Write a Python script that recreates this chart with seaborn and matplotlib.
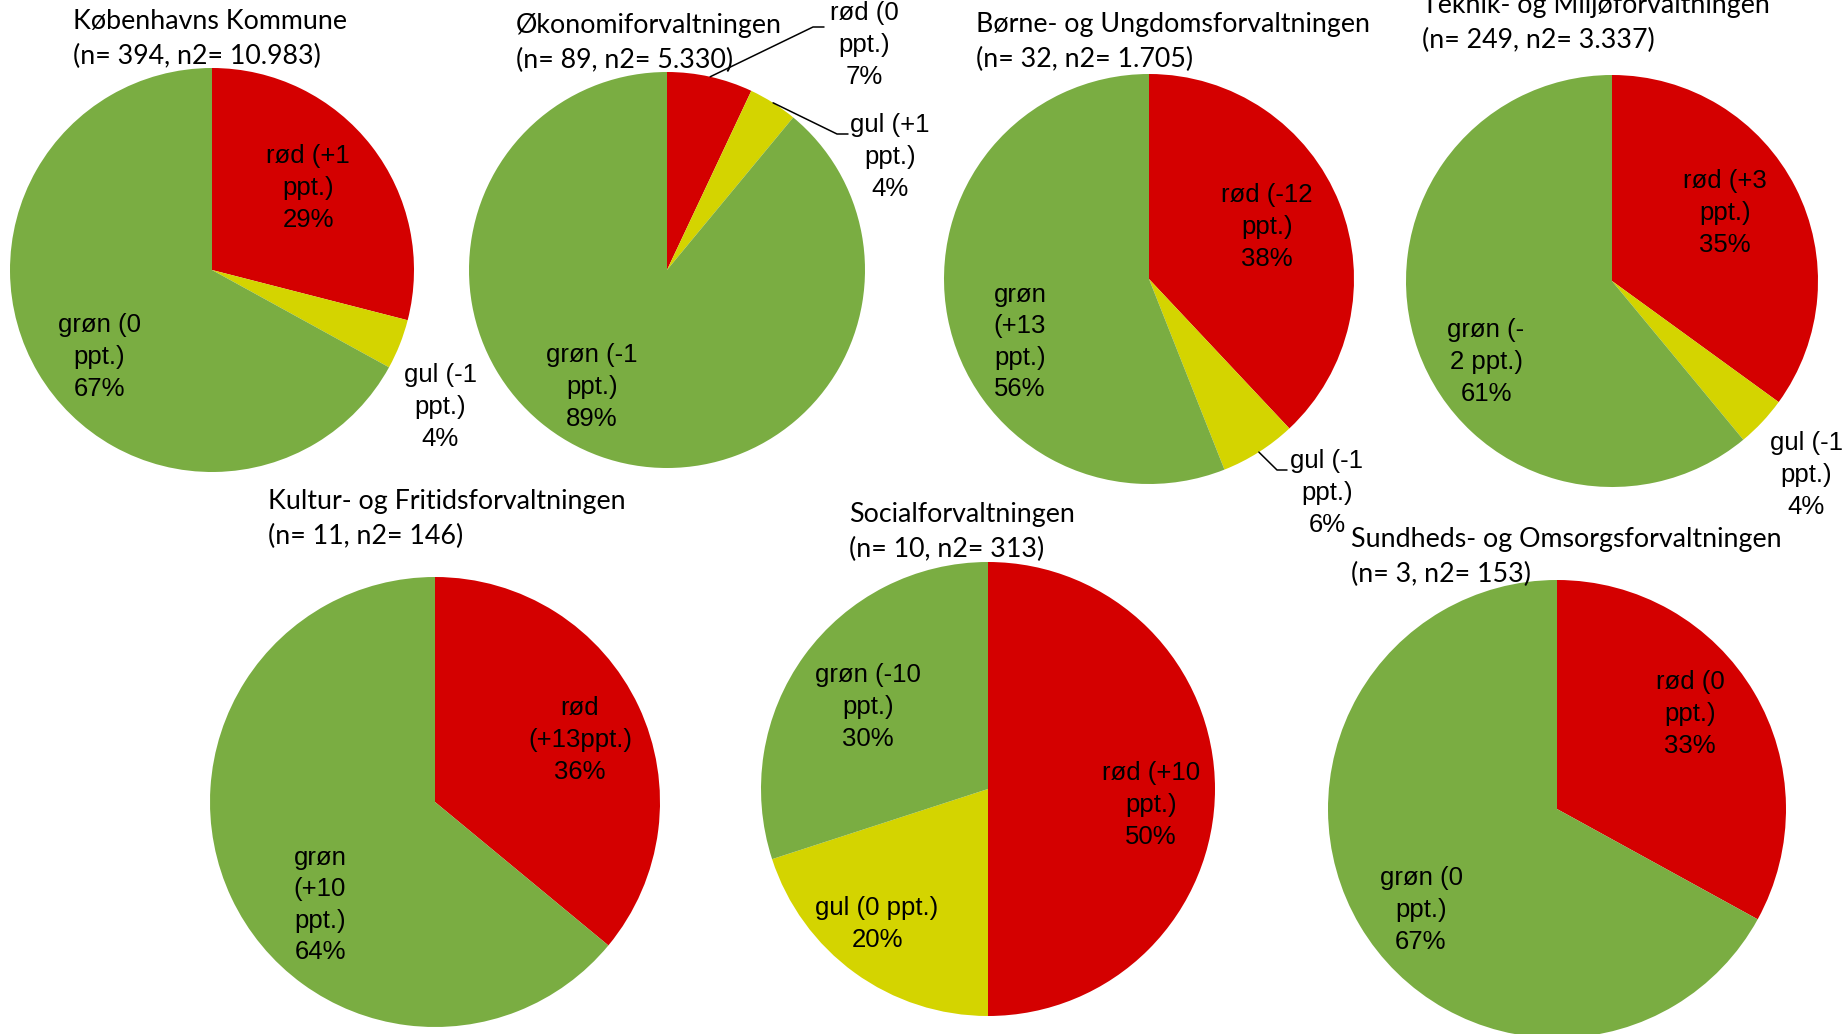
import numpy as np
import matplotlib
matplotlib.use("Agg")
import matplotlib.pyplot as plt
import seaborn as sns

# data
titles = ["Københavns Kommune", "Økonomiforvaltningen", "Børne- og Ungdomsforvaltningen",
          "Teknik- og Miljøforvaltningen", "Kultur- og Fritidsforvaltningen",
          "Socialforvaltningen", "Sundheds- og Omsorgsforvaltningen"]
n_vals = [394, 89, 32, 249, 11, 10, 3]
n2_vals = ["10.983", "5.330", "1.705", "3.337", "146", "313", "153"]

rod = [29, 7, 38, 35, 36, 50, 33]
gul = [4, 4, 6, 4, 0, 20, 0]
gron = [67, 89, 56, 61, 64, 30, 67]

rod_txt = ["rød (+1\nppt.)", "rød (0\nppt.)", "rød (-12\nppt.)", "rød (+3\nppt.)",
           "rød\n(+13ppt.)", "rød (+10\nppt.)", "rød (0\nppt.)"]
gul_txt = ["gul (-1\nppt.)", "gul (+1\nppt.)", "gul (-1\nppt.)", "gul (-1\nppt.)",
           None, "gul (0 ppt.)", None]
gron_txt = ["grøn (0\nppt.)", "grøn (-1\nppt.)", "grøn\n(+13\nppt.)", "grøn (-\n2 ppt.)",
            "grøn\n(+10\nppt.)", "grøn (-10\nppt.)", "grøn (0\nppt.)"]

# layout (pixels, y from top)
W, H = 1844, 1034
centers = [(212, 270), (667, 270), (1149, 279), (1612, 281), (435, 802), (988, 789), (1557, 809)]
radii = [202, 198, 205, 206, 225, 227, 229]
title_pos = [(73, 39), (516, 43), (976, 42), (1422, 23), (268, 519), (849, 532), (1351, 557)]
# label centres: rød, gul, grøn
label_pos = [
    [(308, 188), (440, 407), (99, 357)],
    [(864, 45), (890, 157), (592, 387)],
    [(1267, 227), (1327, 493), (1020, 342)],
    [(1725, 213), (1806, 475), (1486, 362)],
    [(580, 740), None, (320, 905)],
    [(1151, 805), (877, 924), (868, 707)],
    [(1690, 714), None, (1421, 910)],
]
# leader lines: (pie, slice, elbow x, elbow y, end x)
leaders = [(1, 0, 813, 27, 824), (1, 1, 837, 134, 848), (2, 1, 1277, 470, 1287)]

sns.set_theme(style="white")
colors = sns.color_palette(["#D40000", "#D4D400", "#7AAD42"])
label_font = ["Liberation Sans", "DejaVu Sans"]
title_font = ["Lato", "DejaVu Sans"]

fig = plt.figure(figsize=(W / 100, H / 100), dpi=100)
ax = fig.add_axes([0, 0, 1, 1])

for i in range(len(titles)):
    vals = [rod[i], gul[i], gron[i]]
    keep = [k for k in range(3) if vals[k] > 0]
    cx, cy = centers[i]
    ax.pie([vals[k] for k in keep], colors=[colors[k] for k in keep],
           startangle=90, counterclock=False, center=(cx, H - cy), radius=radii[i],
           wedgeprops=dict(linewidth=0), frame=True)

    ax.text(title_pos[i][0], H - title_pos[i][1],
            f"{titles[i]}\n(n= {n_vals[i]}, n2= {n2_vals[i]})",
            ha="left", va="center", fontsize=19.3, family=title_font,
            linespacing=1.45, color="black")

    texts = [rod_txt[i], gul_txt[i], gron_txt[i]]
    for k in keep:
        lx, ly = label_pos[i][k]
        ax.text(lx, H - ly, f"{texts[k]}\n{vals[k]}%", ha="center", va="center",
                fontsize=18.5, family=label_font, linespacing=1.4, color="black")

# leader lines from slice middle on the rim
for i, k, ex, ey, endx in leaders:
    vals = [rod[i], gul[i], gron[i]]
    before = sum(vals[:k])
    mid = 90 - 3.6 * (before + vals[k] / 2)
    cx, cy = centers[i]
    sx = cx + radii[i] * np.cos(np.radians(mid))
    sy = (H - cy) + radii[i] * np.sin(np.radians(mid))
    ax.plot([sx, ex, endx], [sy, H - ey, H - ey], color="black", lw=1.1)

ax.set_xlim(0, W)
ax.set_ylim(0, H)
ax.set_aspect("equal")
ax.set_axis_off()

fig.savefig("out.png", dpi=100)
